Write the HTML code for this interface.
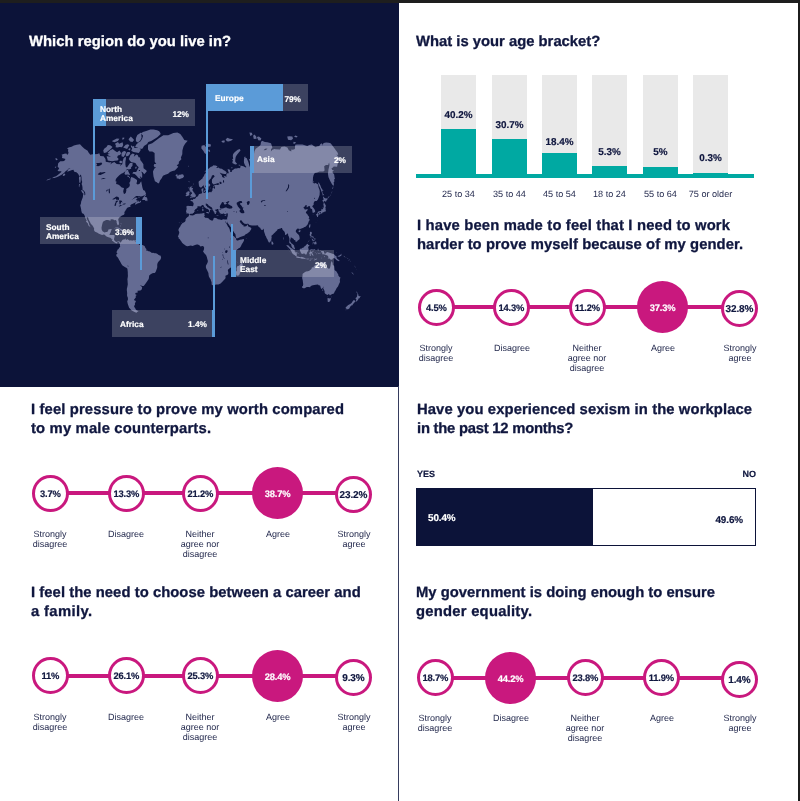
<!DOCTYPE html>
<html><head><meta charset="utf-8"><title>Survey results</title>
<style>
*{box-sizing:border-box;margin:0;padding:0}
html,body{width:800px;height:801px;overflow:hidden;background:#fff}
body{position:relative;will-change:transform;font-family:"Liberation Sans",sans-serif;color:#10173f}
div{position:absolute}
.t,.c,.lab,.bv,.bl,.sm,.sn,.mt{transform:rotate(0.03deg)}
.c,.bv,.sm,.sn,.mt{-webkit-text-stroke:0.18px currentColor}
.t{-webkit-text-stroke:0.3px currentColor;font-weight:700;font-size:14.8px;line-height:20px;color:#10173f;white-space:nowrap}
.t.w{color:#fff}
.ln{height:4px;background:#c9187e}
.c{width:36.8px;height:36.8px;border-radius:50%;border:3px solid #c9187e;background:#fff;font-weight:700;font-size:9.4px;line-height:31.8px;text-align:center;color:#10173f;letter-spacing:-0.2px}
.c.big{width:51.3px;height:52px;border:0;background:#c9187e;color:#fff;line-height:53.6px}
.c.l5{font-size:10px;line-height:32.6px;letter-spacing:-0.1px}
.lab{width:80px;text-align:center;font-size:9px;line-height:10px;color:#23294d}
.bg{top:75px;width:35px;height:100px;background:#e9e9e9}
.bf{width:35px;background:#00a9a2}
.bv{width:55px;text-align:center;font-weight:700;font-size:9.9px;line-height:10px;color:#10173f}
.bl{top:189.3px;width:65px;text-align:center;font-size:9.1px;line-height:10px;color:#23294d}
.sm{font-weight:700;font-size:9px;line-height:10px;color:#10173f}
.sn{font-weight:700;font-size:9.9px;line-height:10px;color:#10173f;letter-spacing:-0.1px}
.mb{background:rgba(255,255,255,.2)}
.mt{color:#fff;font-weight:700;font-size:8.3px;line-height:10px;white-space:nowrap}
.bb{background:#5b9bd8}
</style></head><body>
<div style="left:0;top:0;width:399px;height:387px;background:#0c1339"></div>
<div style="left:398px;top:386px;width:1px;height:415px;background:#363c5e"></div>
<div style="left:0;top:0;width:800px;height:3px;background:#1e1e1e"></div>
<div style="left:798px;top:0;width:2px;height:801px;background:#1c1c1c"></div>
<div class="t w" style="left:29.2px;top:31.11px;letter-spacing:0.026px">Which region do you live in?</div>
<div class="t" style="left:415.7px;top:31.25px;letter-spacing:0.004px">What is your age bracket?</div>
<div class="t" style="left:416.9px;top:214.72px;letter-spacing:0.166px">I have been made to feel that I need to work</div>
<div class="t" style="left:417.1px;top:233.61px;letter-spacing:0.067px">harder to prove myself because of my gender.</div>
<div class="t" style="left:31.4px;top:398.97px;letter-spacing:0.133px">I feel pressure to prove my worth compared</div>
<div class="t" style="left:31.4px;top:417.66px;letter-spacing:0.175px">to my male counterparts.</div>
<div class="t" style="left:416.9px;top:398.98px;letter-spacing:0.104px">Have you experienced sexism in the workplace</div>
<div class="t" style="left:416.9px;top:417.65px;letter-spacing:-0.231px">in the past 12 months?</div>
<div class="t" style="left:30.9px;top:582.01px;letter-spacing:0.055px">I feel the need to choose between a career and</div>
<div class="t" style="left:30.9px;top:601.23px;letter-spacing:0.359px">a family.</div>
<div class="t" style="left:416.4px;top:582.15px;letter-spacing:0.017px">My government is doing enough to ensure</div>
<div class="t" style="left:416.4px;top:601.15px;letter-spacing:0.242px">gender equality.</div>
<!--MAP-->
<svg style="position:absolute;left:0;top:0" width="399" height="387" viewBox="0 0 399 387"><path fill="#646b93" d="M80.0 144.3L82.3 146.7L84.5 148.7L87.7 150.7L88.4 152.3L90.3 154.8L92.5 154.2L94.3 154.2L97.5 154.1L99.3 153.3L100.2 156.1L103.6 156.3L105.5 159.1L105.8 161.7L109.8 162.4L111.4 161.9L110.4 164.6L112.1 162.9L114.3 162.1L116.7 164.1L119.2 164.2L120.8 163.9L120.0 166.1L122.3 164.0L122.5 161.6L123.7 157.9L125.9 156.5L125.9 158.9L125.4 161.7L125.4 164.4L125.9 167.2L127.1 167.2L130.0 162.9L132.6 162.9L132.5 165.7L131.0 167.4L131.2 168.7L128.9 169.5L127.0 169.0L125.7 170.9L123.1 173.0L121.3 173.8L119.3 175.2L117.1 177.6L115.9 179.1L115.5 181.2L116.5 181.5L116.1 184.1L118.2 184.5L119.7 185.4L121.7 187.4L124.0 187.9L123.2 191.2L123.7 193.4L124.7 193.9L125.9 192.5L126.4 190.0L126.1 188.9L128.5 187.6L129.6 186.2L129.9 184.8L129.3 183.0L130.4 181.0L130.5 178.8L131.3 176.9L133.5 177.7L135.6 179.1L137.0 180.1L137.0 181.7L136.4 183.4L137.5 184.5L139.4 183.9L140.8 181.8L141.3 181.5L141.8 184.5L142.4 187.6L143.2 189.9L144.8 190.7L145.4 192.1L146.1 194.1L145.0 194.9L142.8 196.1L141.0 196.4L138.4 196.1L136.1 196.1L134.4 197.6L132.2 199.5L131.2 200.3L133.3 198.9L135.8 197.5L137.7 197.9L136.6 199.1L135.7 199.0L136.8 200.1L136.8 201.4L137.7 201.7L139.2 202.0L140.7 200.6L141.0 201.9L139.8 202.7L137.4 203.5L135.3 204.7L134.9 203.7L136.6 202.4L135.3 202.6L134.3 203.0L132.3 204.0L131.1 204.4L130.3 205.6L130.4 206.6L130.9 206.7L129.4 207.0L128.5 207.2L126.9 207.9L126.6 209.1L125.7 209.9L125.3 211.0L124.4 212.1L124.5 214.1L123.5 214.9L122.0 215.6L120.7 216.4L119.0 217.7L118.2 219.4L118.7 221.6L119.0 223.5L118.6 224.9L117.8 225.3L117.2 224.3L116.6 222.4L116.6 221.0L115.7 219.9L114.2 220.2L113.4 219.4L111.9 219.3L110.5 219.5L110.6 220.8L109.4 220.6L108.0 220.1L106.3 220.0L105.1 220.5L103.0 221.8L102.3 224.0L101.5 227.8L101.8 229.9L102.8 231.4L103.8 232.0L104.4 232.4L106.2 232.0L107.2 232.0L108.1 230.8L108.4 229.5L110.8 228.9L111.9 229.3L111.1 230.8L110.6 232.5L110.1 233.2L109.4 234.9L110.7 235.0L112.2 234.9L114.1 235.0L114.8 235.8L114.3 237.8L114.0 239.3L114.2 239.9L114.7 240.8L115.5 241.6L116.6 242.0L117.6 241.5L119.0 241.3L120.1 242.1L120.4 242.8L119.9 243.4L119.5 243.6L119.2 242.6L118.0 241.8L117.2 242.6L117.2 243.4L115.9 243.3L114.7 242.6L114.1 242.3L113.1 241.2L112.0 240.8L112.1 239.8L111.0 238.3L110.3 237.7L109.1 237.5L107.7 237.0L106.1 236.3L104.7 234.8L103.8 234.5L102.1 235.0L100.2 234.3L98.9 233.8L97.0 232.6L95.6 232.1L94.8 231.4L93.9 230.0L94.2 228.8L93.4 226.9L92.1 224.9L90.9 224.1L90.1 222.2L89.7 221.5L88.6 219.6L88.2 217.8L86.9 216.9L86.7 218.4L87.5 220.2L88.2 221.6L88.9 223.3L89.2 224.8L89.8 225.7L90.4 226.9L90.0 227.2L89.7 226.5L88.2 225.2L88.1 223.7L87.1 222.7L86.3 221.7L85.9 221.5L86.7 220.6L85.7 218.7L85.0 216.9L84.8 215.9L83.9 214.2L83.0 213.4L82.0 213.3L81.3 210.7L81.1 209.1L80.5 206.6L80.2 205.4L81.0 203.2L81.1 201.8L82.8 197.3L83.2 194.0L84.7 194.5L84.7 195.8L85.3 194.4L85.2 193.3L85.1 192.6L84.0 190.8L82.5 189.8L82.5 187.8L82.2 185.5L81.6 184.0L82.2 182.0L81.6 180.1L81.5 177.2L80.9 174.5L79.2 176.2L78.5 174.6L77.6 173.2L76.4 172.2L74.3 171.7L73.4 169.8L71.3 170.2L69.5 171.1L67.0 171.8L68.6 169.1L70.5 168.2L69.0 168.3L67.3 169.9L65.6 171.3L64.0 173.1L61.6 174.7L58.9 176.2L56.6 177.2L54.3 177.9L52.8 178.0L51.4 178.4L53.8 177.0L56.1 176.2L59.0 174.1L61.6 171.7L60.9 171.3L59.3 171.2L57.5 171.0L59.2 168.2L57.7 166.7L58.0 164.4L58.2 163.2L60.3 161.3L62.2 161.3L64.2 161.1L65.5 159.0L64.0 158.5L62.0 157.9L62.3 155.8L61.5 154.8L64.3 153.7L66.4 153.6L67.2 154.9L68.6 153.1L68.0 151.0L68.3 149.3L67.0 148.8L68.6 147.6L71.6 146.8L73.9 145.5L76.9 144.7ZM148.1 144.7L152.2 143.2L155.2 141.1L159.2 138.0L163.4 135.3L168.2 135.2L173.4 133.1L177.4 132.5L180.3 134.0L182.5 137.1L184.3 139.9L187.7 140.7L185.1 143.7L183.5 146.5L182.4 150.4L182.3 154.2L180.9 157.6L181.4 159.2L178.9 161.8L178.7 163.9L176.7 165.2L178.3 166.8L177.0 168.3L174.8 170.4L172.5 171.0L170.0 171.9L168.1 173.7L165.2 174.7L163.0 175.8L161.7 178.2L160.0 180.5L159.2 182.8L158.2 183.6L156.8 182.3L154.9 181.2L154.2 178.8L153.5 176.4L153.2 174.1L153.0 171.4L154.2 168.7L156.2 167.2L154.6 167.2L153.7 165.7L154.3 164.1L156.3 164.0L154.7 161.7L154.7 159.0L154.6 156.0L154.6 153.1L152.3 151.4L149.4 151.4L148.0 149.5L148.0 147.0ZM120.4 242.8L121.4 241.5L122.0 240.4L122.7 239.8L123.2 239.6L124.4 239.4L125.7 238.5L126.2 239.1L125.5 239.9L126.0 240.0L127.1 239.4L127.3 238.7L127.8 239.4L128.9 240.1L129.2 240.4L131.1 240.3L132.1 240.8L133.2 240.3L135.0 240.2L134.5 240.9L135.9 241.4L136.0 242.3L137.0 242.6L138.5 244.0L139.6 244.9L141.4 244.9L142.5 245.0L144.2 245.8L144.9 246.4L145.4 248.1L146.4 248.9L146.4 250.1L146.0 250.5L147.9 250.8L148.3 251.2L149.2 251.2L150.7 252.0L151.9 252.9L153.1 252.8L154.6 253.3L156.0 253.2L157.5 254.1L158.6 255.1L159.9 255.4L160.4 255.5L160.7 256.1L161.1 257.4L161.0 258.3L160.2 259.9L159.0 261.1L157.6 263.1L157.2 264.9L157.3 266.6L157.1 267.9L156.2 270.4L155.6 272.1L154.7 273.1L153.6 273.1L152.4 273.3L150.7 274.2L149.2 275.5L148.9 277.9L148.7 279.0L147.7 280.5L146.0 282.9L144.9 284.6L143.7 286.1L142.5 286.0L140.9 285.6L140.3 285.3L140.4 285.8L141.6 286.6L142.2 287.6L141.7 289.5L140.4 290.4L137.5 290.7L137.8 292.6L135.3 293.1L135.5 294.5L136.9 295.1L135.7 295.7L135.8 297.6L134.1 299.6L134.2 300.2L136.0 301.0L134.9 303.5L135.0 304.8L134.1 305.9L134.3 307.0L135.1 308.0L135.8 309.6L136.9 310.5L138.6 311.1L137.6 311.8L136.5 312.3L137.3 313.1L135.1 312.3L133.1 311.3L131.7 310.4L130.3 309.0L129.1 307.7L128.5 305.9L127.7 303.7L127.2 301.3L127.9 299.7L127.9 298.0L127.3 296.1L127.2 294.6L127.1 292.4L126.8 290.0L126.9 288.6L127.3 287.1L127.8 284.2L127.6 282.0L127.6 280.9L127.4 279.3L127.7 277.6L127.9 276.0L127.8 274.0L127.8 272.3L127.6 270.5L127.4 268.7L126.4 267.8L125.2 267.2L123.7 266.2L122.5 265.5L121.4 264.1L120.5 262.2L119.8 261.0L118.9 259.4L118.4 258.4L117.6 257.2L116.5 256.3L116.2 255.1L116.6 254.2L117.1 253.7L117.5 252.9L116.5 252.7L116.7 251.5L117.3 250.4L117.4 249.8L118.6 249.0L119.0 248.0L120.2 246.8L119.9 245.2L120.0 244.3L119.5 243.6L119.9 243.4ZM146.7 171.4L144.2 174.2L142.7 172.2L141.3 171.5L142.2 174.1L142.2 176.9L142.0 178.1L139.7 176.0L140.8 179.0L138.5 177.9L136.6 175.8L134.7 173.9L132.3 173.6L133.3 171.9L136.2 172.1L137.5 169.4L138.7 167.3L136.9 165.4L135.4 163.0L133.2 162.6L131.3 162.2L129.9 160.8L128.8 159.0L130.5 155.1L132.6 153.5L134.6 154.2L133.8 156.8L136.3 154.6L137.6 155.1L138.6 157.3L140.1 157.5L140.3 159.9L141.9 161.9L143.4 164.3L143.4 166.3L143.6 168.3L145.2 169.5L146.5 170.6ZM106.6 156.6L107.4 158.8L107.7 160.6L110.5 161.0L112.1 161.3L114.9 160.8L117.6 160.5L118.7 159.1L117.1 157.3L118.0 155.6L120.0 155.1L121.2 153.3L120.3 151.7L119.4 150.4L117.1 152.2L115.6 151.2L113.5 149.8L112.9 149.1L110.5 150.0L107.6 152.8L108.3 153.5L109.9 153.7L107.3 154.5L108.4 155.6L111.1 156.8L107.3 156.3ZM103.2 150.6L103.9 153.0L106.3 152.6L108.8 150.6L111.0 148.8L112.5 146.9L111.6 146.3L110.2 145.3L107.8 145.1L106.5 147.0L104.4 148.4ZM115.0 143.8L118.0 141.9L119.1 143.8L122.6 142.2L123.2 144.9L122.0 147.2L119.8 147.1L117.4 147.6L115.6 147.3L115.9 145.6ZM112.0 141.1L116.8 138.4L119.4 138.7L117.9 140.9L114.4 142.3L112.4 141.6ZM123.2 147.5L127.1 148.9L129.3 145.2L128.0 144.2L125.7 144.7ZM128.1 149.2L129.5 150.4L130.6 149.0L130.0 148.0ZM121.6 152.9L121.5 156.2L123.6 156.9L125.2 154.6L126.2 152.0L124.7 151.0L122.9 151.4ZM127.4 152.0L129.7 152.1L130.3 153.2L128.8 155.4L126.6 156.6L125.7 155.2L126.4 153.3ZM119.1 161.8L120.9 160.6L122.1 161.5L121.9 163.0L120.0 163.3ZM125.1 171.8L127.0 169.8L128.1 170.0L128.4 171.5L129.4 173.4L130.1 174.4L129.3 175.0L127.8 174.4L125.5 174.8L124.5 173.9ZM127.3 175.6L128.6 175.8L129.5 176.8L127.7 176.9ZM129.0 176.9L129.9 176.9L129.6 178.2L128.9 177.9ZM135.0 168.5L136.4 168.5L136.8 166.8L135.6 166.8ZM130.9 145.1L132.3 146.6L134.2 146.0L134.3 148.0L137.7 148.0L140.6 148.2L140.5 150.6L138.8 152.9L136.2 152.5L133.4 151.9L131.2 150.8L132.2 148.3L131.0 146.9ZM135.1 147.1L137.8 147.8L140.9 149.1L142.6 148.6L144.0 146.1L147.1 143.9L148.3 142.0L151.2 141.1L154.1 139.2L157.3 137.2L160.5 134.3L160.5 133.2L159.2 131.3L157.1 130.3L153.5 129.6L150.4 129.5L146.2 131.0L142.9 131.9L141.0 133.6L143.1 135.8L142.1 138.7L140.6 141.2L138.4 142.5L136.1 144.7ZM141.1 132.5L141.4 135.3L141.6 137.8L140.3 140.5L137.8 142.4L135.9 141.2L135.9 138.2L137.3 135.0ZM128.5 139.2L130.1 141.4L132.4 142.1L134.1 140.0L132.8 138.5L130.8 136.4ZM122.0 139.6L123.8 139.3L124.5 137.8L122.7 137.5ZM141.9 199.9L142.8 198.7L142.5 198.1L143.5 197.2L144.4 195.9L145.1 195.0L146.2 194.8L145.5 196.0L144.6 197.1L145.8 197.1L147.0 197.6L147.3 198.7L147.5 200.1L147.2 201.3L146.4 201.1L146.4 200.3L145.2 200.9L145.0 200.1L143.9 200.0ZM137.8 196.6L139.9 197.4L140.1 197.8L138.5 197.4ZM137.1 200.5L139.2 201.1L138.6 201.7L137.4 201.2ZM81.1 189.9L82.3 190.2L83.6 191.5L84.2 192.9L84.5 194.1L83.3 193.8L82.5 193.0L81.5 191.3ZM79.1 184.0L80.1 184.3L79.4 186.0L79.5 187.4L78.8 186.2ZM79.2 176.4L80.8 176.7L80.7 179.9L80.5 182.6L79.3 182.8L79.2 180.2L78.9 178.1ZM63.0 174.5L64.5 173.6L65.4 174.2L64.4 175.7L62.8 176.0ZM55.0 166.7L56.4 166.8L55.8 167.8L54.8 167.6ZM55.9 158.1L57.1 158.8L57.7 159.7L56.4 160.2L55.3 159.0ZM47.4 179.4L49.6 178.8L50.9 178.5L50.4 179.2L48.0 180.1L46.3 180.8ZM113.8 228.7L115.7 227.5L116.3 227.4L118.1 227.5L119.4 228.2L120.8 228.9L122.2 229.5L123.8 230.6L122.6 230.9L120.4 230.9L121.0 230.2L120.2 230.0L119.3 229.2L118.0 228.6L116.7 228.4L115.8 227.9L114.6 228.6ZM123.5 232.2L125.0 232.3L125.1 231.6L124.6 231.0L126.2 231.0L127.8 231.1L128.5 231.5L129.2 232.3L128.7 232.5L127.7 232.4L126.6 232.8L126.0 233.1L125.8 232.6L124.8 232.6L123.5 232.5ZM119.6 232.5L121.0 232.3L121.7 232.8L120.8 233.0L119.7 232.8ZM130.4 232.4L131.9 232.5L131.8 232.9L130.4 232.9ZM120.4 223.6L121.4 223.5L121.6 224.2L120.8 224.0ZM120.5 225.5L121.0 225.5L120.9 226.5L120.3 226.3ZM135.1 240.1L135.9 240.1L135.9 240.8L135.0 240.8ZM127.0 294.6L127.7 294.7L128.0 296.6L127.2 296.4ZM189.6 214.4L188.8 214.0L188.2 213.2L187.3 213.4L186.3 213.4L186.5 211.9L185.9 211.4L186.4 210.1L186.7 208.7L186.5 207.6L186.2 206.6L187.0 206.2L187.7 205.7L189.2 206.0L191.2 206.1L193.0 206.2L193.5 204.7L193.6 203.6L193.5 202.9L192.8 202.2L192.6 201.6L191.9 201.2L190.8 200.9L190.4 200.2L191.1 199.8L192.0 199.7L192.8 200.0L193.2 199.8L192.9 198.6L193.5 199.0L194.4 199.1L194.7 198.8L195.6 198.3L196.0 197.6L196.3 197.0L197.1 196.7L197.6 196.4L198.2 195.7L198.7 194.4L199.3 194.0L200.5 193.8L201.5 193.4L202.1 193.1L201.9 191.8L201.7 191.0L201.4 189.6L201.8 188.8L203.5 187.9L203.4 188.9L203.3 190.0L202.9 191.2L202.7 191.9L203.3 192.5L204.0 192.4L204.0 193.0L205.0 192.7L206.1 192.1L206.9 193.1L208.5 192.5L210.2 191.8L210.6 192.3L211.4 192.3L211.7 191.6L212.5 190.5L212.4 189.4L212.7 188.0L213.5 187.6L214.2 188.7L214.9 188.6L215.0 186.8L214.2 186.2L214.1 185.5L215.1 185.1L216.1 184.8L217.8 184.9L219.5 184.2L218.2 183.1L216.8 183.5L215.2 184.0L213.6 184.6L212.9 183.8L212.1 182.9L211.9 181.4L212.0 179.6L213.0 178.3L214.0 177.0L214.7 176.4L213.9 175.3L213.5 175.1L212.0 175.5L211.5 176.9L210.8 178.6L209.8 179.5L209.0 180.5L208.7 180.8L208.6 181.9L208.7 183.4L209.9 184.1L210.3 185.3L209.3 186.4L208.5 186.5L208.6 187.8L208.4 189.2L208.1 189.9L207.8 190.1L206.8 190.8L206.3 191.1L205.7 191.1L205.4 190.3L205.5 189.3L204.6 187.9L203.9 186.8L203.7 186.0L203.4 184.7L203.1 185.8L202.5 186.3L201.3 187.4L200.5 187.5L199.3 186.7L199.3 186.1L198.9 185.4L198.8 184.0L198.6 182.8L198.7 181.6L199.6 180.8L200.6 179.9L201.6 179.1L202.4 179.1L202.2 178.4L203.1 177.1L204.0 176.0L204.4 174.6L205.7 172.9L206.1 171.6L204.5 171.7L205.6 170.9L206.3 170.0L207.4 169.4L208.8 168.4L209.9 167.6L210.9 166.8L212.1 166.4L213.5 165.3L214.8 165.5L215.6 165.6L216.8 166.1L217.6 166.6L216.2 167.5L217.1 168.0L218.5 167.5L219.8 168.4L221.8 168.8L223.5 170.0L225.3 170.9L226.5 172.3L226.6 173.3L225.9 173.9L224.3 174.0L221.8 173.5L219.7 172.6L220.7 173.9L221.9 175.2L222.2 176.9L223.8 177.8L225.0 177.7L224.4 176.9L223.8 175.8L226.0 176.5L226.8 176.4L226.1 174.9L227.3 173.3L228.9 173.3L228.4 171.7L227.5 169.2L228.8 169.3L230.2 170.1L230.2 171.9L231.7 172.0L231.9 170.5L232.9 169.9L234.9 168.5L236.5 168.5L238.3 167.9L239.6 168.3L240.5 167.3L240.4 165.7L239.9 165.5L243.4 166.3L244.7 166.9L245.7 167.4L246.4 167.1L245.0 165.2L244.1 163.1L243.9 161.4L244.0 159.2L244.5 157.5L246.6 158.0L248.3 161.8L249.4 165.8L250.9 169.5L250.6 170.9L251.8 168.5L251.1 165.5L249.9 161.5L248.8 158.8L250.2 159.2L250.7 157.7L252.9 158.2L251.7 155.4L253.9 154.4L254.5 150.9L255.7 148.7L258.5 146.8L260.5 145.0L261.0 142.0L262.0 140.8L264.9 142.1L267.4 142.2L271.0 143.3L272.4 147.4L271.1 149.2L270.9 151.5L272.3 149.7L274.7 149.0L275.4 149.3L280.0 149.4L281.3 146.9L284.5 146.4L287.4 147.6L288.8 150.3L291.3 151.4L291.3 149.5L292.9 149.8L294.9 148.9L295.0 146.4L295.3 144.8L297.1 144.4L299.7 144.4L302.4 144.4L304.9 145.3L307.3 146.0L309.2 144.9L311.8 144.6L315.6 147.2L316.9 146.4L319.3 145.9L320.3 144.2L321.6 143.3L323.0 145.7L322.6 144.2L323.8 143.1L326.1 142.5L328.8 142.7L330.6 143.3L331.8 144.8L333.3 146.8L334.4 148.3L336.0 150.5L336.8 151.6L338.8 154.5L338.8 154.5L338.1 153.5L337.0 151.9L335.6 150.0L337.8 153.1L338.2 154.9L336.4 154.4L338.6 157.0L341.3 159.2L339.3 159.5L338.6 161.5L337.6 163.9L337.1 166.7L333.8 166.5L332.6 167.8L331.5 168.3L332.7 171.0L332.6 172.5L334.2 174.5L334.3 175.6L334.7 178.0L335.1 178.3L334.2 179.5L334.4 181.6L333.6 182.5L334.0 184.0L333.4 186.1L332.0 184.3L330.1 180.8L328.5 177.2L327.9 173.6L328.2 172.0L328.4 169.7L329.0 167.3L329.5 164.8L329.1 162.5L328.5 163.9L328.3 165.1L326.3 164.9L325.5 165.2L324.2 166.2L324.6 170.6L323.3 171.6L321.1 171.4L319.5 171.6L317.1 172.5L314.8 173.0L313.6 174.9L313.0 177.6L312.9 180.5L312.8 182.5L314.2 183.5L315.8 182.9L317.2 184.0L318.1 184.4L318.5 187.3L319.5 189.7L319.8 191.4L319.6 195.0L318.7 197.5L317.9 199.5L316.7 201.0L314.9 201.1L314.1 201.9L313.6 203.3L313.8 204.5L312.8 205.6L312.2 206.4L313.4 207.7L314.6 209.5L315.2 210.9L315.0 212.1L314.1 212.5L312.8 213.1L312.4 211.4L312.2 210.0L312.0 209.1L310.9 208.8L310.2 207.9L310.1 206.5L309.1 205.9L308.0 206.5L306.9 207.6L306.5 205.8L306.8 205.1L305.8 204.9L304.7 206.4L303.3 207.7L304.5 208.8L304.9 209.7L306.2 209.2L308.2 209.6L307.0 210.7L306.5 211.3L305.9 212.6L305.9 213.1L307.2 214.1L308.0 215.6L309.1 216.7L309.2 217.5L308.8 218.3L308.4 218.4L309.5 218.9L309.5 220.5L308.9 221.1L308.3 222.7L308.0 223.5L307.6 224.4L306.9 225.2L305.9 226.4L304.1 227.3L303.4 227.8L302.8 227.9L301.4 228.5L300.0 229.0L299.8 230.0L299.3 228.8L298.6 228.7L297.6 228.6L296.5 229.6L295.9 230.6L295.8 231.8L296.6 232.8L297.7 234.1L298.4 234.5L299.2 235.8L299.5 236.9L299.7 238.4L299.5 239.2L298.5 239.9L297.7 240.4L297.3 241.2L295.9 242.0L295.6 242.1L295.6 240.9L295.2 240.3L294.2 240.1L293.7 239.2L293.1 238.5L291.7 238.0L291.2 237.2L290.7 237.4L290.7 238.4L290.1 240.0L290.2 241.6L290.9 242.4L291.6 243.5L292.2 243.8L293.1 244.5L294.1 245.5L294.3 246.9L294.8 248.1L295.1 249.2L294.5 249.3L293.2 248.4L292.4 247.7L291.6 246.5L291.3 245.3L291.1 244.3L290.7 244.0L289.3 242.9L289.3 241.8L289.5 240.8L289.4 238.4L288.8 236.6L288.2 235.4L288.1 234.2L287.4 233.3L286.8 234.1L286.0 234.9L285.0 234.7L285.0 233.2L284.5 231.8L283.3 230.5L282.6 229.7L282.3 229.1L282.0 228.1L281.2 227.9L280.6 228.5L279.4 228.7L278.6 228.9L277.5 229.2L277.4 230.1L276.5 230.9L275.8 231.4L275.0 232.4L274.3 233.1L273.4 234.0L272.4 234.9L271.4 235.8L271.7 237.7L271.3 239.0L271.5 240.5L270.9 240.6L270.6 241.5L269.9 242.0L269.3 242.7L268.7 242.3L267.9 240.8L267.5 239.6L266.5 238.0L266.0 236.6L265.3 235.4L264.8 233.8L264.1 231.8L263.9 230.3L263.9 229.6L263.7 228.5L263.4 229.3L262.3 230.1L261.3 229.8L260.2 228.5L261.4 227.8L260.2 227.9L259.7 227.4L258.7 226.9L258.1 225.8L257.6 225.2L255.8 225.5L253.6 225.6L252.0 225.4L249.3 225.1L248.4 224.0L247.7 223.5L246.5 224.0L244.6 223.7L243.6 222.9L242.4 221.7L241.7 220.6L240.5 220.2L239.7 221.2L240.2 222.2L240.8 223.2L241.5 223.8L242.0 224.4L242.4 225.3L242.8 224.7L243.4 225.0L243.5 225.9L243.2 226.3L244.4 226.6L246.1 226.3L246.9 225.5L247.5 224.7L247.9 224.4L248.0 225.8L248.3 226.4L250.2 227.2L251.4 228.3L251.1 229.5L250.5 230.4L249.7 230.7L249.7 231.9L249.0 232.0L248.1 233.0L247.2 233.5L246.4 234.0L245.3 234.4L244.6 235.4L241.7 236.5L240.2 237.1L237.8 238.2L236.4 238.3L236.1 237.7L235.7 236.2L235.5 234.7L235.3 234.1L234.2 232.8L233.5 231.5L231.8 229.5L231.6 228.5L230.6 226.9L229.8 226.0L229.0 224.7L228.0 223.4L227.5 222.9L227.4 221.3L227.0 222.9L226.8 223.2L226.2 222.6L225.1 220.8L224.8 219.5L225.9 219.6L226.7 219.4L227.1 218.5L227.2 217.8L227.6 216.6L227.8 215.9L227.7 214.8L227.9 214.3L228.0 213.6L227.3 213.6L226.5 213.4L225.5 214.2L224.9 214.3L224.1 213.8L222.9 213.3L222.7 214.0L221.8 214.1L221.4 213.7L220.6 213.5L219.8 213.3L219.6 212.5L219.4 211.7L218.8 211.8L219.1 211.0L219.0 210.7L218.5 210.5L218.5 209.9L218.3 209.2L218.2 209.0L216.8 208.9L216.5 209.6L216.0 210.0L215.5 209.3L215.2 210.0L215.6 210.8L215.9 211.5L216.6 212.0L216.7 212.6L215.9 212.3L215.9 212.9L216.0 213.9L215.4 214.0L214.6 213.6L214.2 212.6L214.5 211.9L214.0 211.9L213.6 211.2L213.1 210.6L212.9 210.1L212.3 209.5L212.3 208.5L212.2 207.9L211.9 207.6L211.3 207.3L211.0 207.0L209.4 206.0L208.3 205.3L207.9 204.2L207.5 203.9L207.0 204.4L206.7 203.7L206.9 203.5L205.6 203.8L205.8 204.4L205.9 205.4L206.8 205.9L207.4 207.2L209.3 207.9L209.0 208.2L210.0 208.8L211.0 209.3L211.5 209.8L211.4 210.2L211.0 210.0L210.3 209.5L209.8 210.3L210.2 211.0L209.8 211.4L209.3 212.4L209.0 212.2L209.1 211.5L209.3 211.0L209.2 210.8L208.8 210.0L208.0 209.3L207.6 209.1L207.0 208.7L206.0 208.4L205.7 208.1L205.3 207.7L204.6 207.3L204.1 206.7L203.9 206.0L203.4 205.3L202.6 205.0L202.2 205.1L201.8 205.6L201.2 205.8L200.6 206.4L199.9 206.5L199.4 206.3L198.9 206.3L197.9 206.2L197.4 206.5L197.4 207.2L197.6 207.5L196.6 208.5L195.7 208.9L195.4 209.3L194.6 210.2L194.3 210.7L194.8 211.5L194.1 211.9L194.0 212.8L193.1 213.0L192.6 213.8L191.4 213.8L190.5 213.8L190.1 214.0ZM189.6 198.1L190.1 198.3L191.0 197.8L191.6 197.4L192.5 197.5L193.5 197.3L194.8 197.3L195.4 197.1L195.8 196.7L195.8 196.4L195.2 196.3L195.7 195.7L196.1 195.0L195.7 194.4L194.9 194.5L194.9 194.1L194.7 193.6L194.5 192.9L194.1 192.4L193.6 192.2L193.3 191.4L192.9 190.6L191.9 190.3L192.4 189.9L192.8 188.8L193.1 188.2L192.9 188.0L191.8 188.0L191.1 188.2L191.4 187.7L192.0 186.9L192.1 186.6L190.4 186.7L190.2 187.2L189.7 187.7L189.7 188.5L189.7 188.9L189.4 189.3L190.0 189.8L189.9 190.5L189.7 191.3L190.2 190.9L190.4 190.4L190.6 191.1L190.2 191.8L190.5 192.2L191.6 191.8L191.5 192.4L191.8 192.9L192.2 192.9L192.0 193.3L192.0 193.8L191.3 193.9L190.6 193.8L190.8 194.2L190.5 194.6L191.1 194.5L191.1 195.1L190.5 195.5L190.0 195.8L190.2 196.1L190.9 196.2L191.2 196.2L191.9 196.4L192.3 196.2L192.0 196.7L191.0 196.7L190.6 196.9L190.3 197.5L189.8 197.9ZM189.1 195.4L188.5 195.4L187.4 195.9L186.1 196.3L185.5 195.5L186.2 194.8L186.8 194.1L185.8 193.8L185.9 193.0L186.0 192.6L187.3 192.6L187.2 192.2L187.5 191.5L188.3 191.2L189.4 191.4L189.7 192.2L189.9 192.5L189.2 193.0L189.3 193.9L189.4 194.4ZM188.7 187.2L189.4 186.8L189.3 187.5L188.6 187.9L188.4 188.8L188.2 187.9ZM189.0 188.2L189.4 187.9L189.6 188.7L189.2 188.8ZM189.3 189.5L189.8 189.6L189.7 189.9L189.2 189.9ZM189.1 190.4L189.5 190.5L189.5 190.9L189.2 190.9ZM191.8 185.9L192.4 185.8L192.3 186.4L191.8 186.2ZM193.3 183.8L193.9 183.6L193.7 184.8L193.4 184.6ZM188.6 181.1L189.4 181.2L189.2 182.4L188.8 181.9ZM175.3 175.6L176.7 174.2L177.2 174.1L177.7 175.7L178.1 175.9L178.8 174.8L180.2 174.7L182.0 174.2L183.2 174.5L183.9 175.9L183.9 176.8L182.7 178.0L181.0 178.6L179.4 179.2L178.2 178.6L176.5 178.5L177.1 177.7L175.6 176.7L177.2 176.5ZM188.0 166.0L188.7 165.8L188.7 166.4L188.0 166.6ZM201.3 148.3L201.6 145.8L204.3 145.0L205.4 146.5L206.7 147.2L208.2 148.8L206.7 149.9L206.6 151.7L205.9 154.0L204.5 153.1L203.5 151.1L202.6 149.9ZM205.5 144.8L206.5 143.5L208.4 143.7L210.9 144.4L210.7 146.4L208.2 146.9L206.3 146.1ZM208.0 149.8L209.6 149.7L210.2 151.5L209.0 152.1ZM221.3 141.6L222.8 140.4L224.7 140.4L224.7 142.3L223.0 142.8ZM225.6 139.5L227.4 137.8L229.7 138.7L231.7 138.9L233.0 139.0L231.2 140.7L228.3 141.6L226.9 141.2ZM232.3 163.0L232.9 159.9L231.9 159.2L233.2 158.8L232.8 156.3L233.0 154.6L233.9 153.0L235.5 151.4L237.7 149.7L239.8 148.9L240.5 150.5L238.8 152.6L236.8 155.0L235.7 157.0L235.3 159.4L235.2 161.6L237.2 164.1L235.4 164.5L234.1 164.0ZM231.3 168.1L231.8 167.1L232.6 167.8L232.0 168.4ZM238.9 165.9L238.8 164.5L239.8 165.0L239.6 165.8ZM244.0 157.3L245.3 156.6L245.7 157.7L244.6 157.9ZM253.8 139.0L253.1 135.7L254.5 134.5L256.2 136.5L256.6 138.8ZM258.3 140.3L256.9 137.0L258.9 136.6L261.4 138.6L260.5 140.6ZM250.3 135.9L249.4 132.4L251.8 132.8L252.5 134.8ZM288.0 139.7L287.2 136.5L289.6 136.2L292.4 136.4L293.0 138.7L291.1 140.2ZM294.1 136.8L295.2 135.6L297.7 136.3L296.5 137.6ZM293.1 143.4L293.7 141.8L296.1 142.6L294.7 143.7ZM332.3 169.9L333.4 170.1L333.6 171.0L332.8 170.9ZM317.9 182.4L319.0 182.8L320.3 185.3L321.2 187.8L323.0 190.4L323.8 191.0L322.1 190.7L322.7 193.5L323.9 194.4L324.2 195.5L323.3 194.8L323.0 196.0L322.2 193.5L321.4 191.2L320.1 187.9L318.9 185.5L318.4 183.8ZM313.1 181.5L314.0 181.6L314.1 182.3L313.4 182.2ZM327.2 198.8L327.8 197.7L329.1 195.9L329.5 196.2L328.3 197.9L327.5 198.9ZM329.9 195.3L330.6 194.6L330.6 195.3L330.1 195.6ZM331.5 193.2L332.0 191.3L332.2 191.6L331.8 193.5ZM332.4 189.1L332.7 187.3L333.1 186.3L333.3 187.0L332.9 189.0ZM323.2 202.8L323.0 201.5L322.5 201.1L322.6 200.0L323.5 199.9L323.4 198.4L322.9 196.7L323.2 196.6L324.6 198.0L326.0 198.6L326.8 198.0L326.9 199.0L327.7 199.5L326.6 200.2L326.0 201.7L324.3 200.9L323.7 201.4L323.1 201.2L324.1 202.1L323.6 202.2ZM323.9 202.6L324.4 202.7L324.9 204.0L325.8 205.2L325.7 207.0L325.3 207.2L325.7 208.8L325.5 209.8L325.9 210.6L325.7 211.4L325.2 211.7L325.0 210.8L325.0 211.4L324.5 211.4L324.4 212.2L323.9 211.7L323.8 212.2L322.6 212.3L322.4 211.8L322.6 212.7L322.2 213.2L321.8 213.8L321.0 213.3L321.0 212.8L321.1 212.3L320.3 212.2L319.7 212.6L318.4 212.9L317.4 213.4L317.1 213.4L317.0 212.9L317.4 212.8L317.9 212.2L318.3 211.4L318.9 211.2L319.8 211.2L320.6 210.9L321.3 211.0L321.2 210.2L321.6 209.1L322.1 208.4L321.9 209.0L322.2 209.4L323.0 208.8L323.3 207.9L323.5 207.7L323.7 206.8L323.8 205.9L323.4 204.9L323.4 203.9L323.5 203.1L324.0 203.5L324.2 203.0ZM318.3 214.1L318.8 213.4L319.5 212.9L320.5 212.9L320.7 213.4L320.4 214.2L319.6 213.9L319.4 214.9L318.7 214.4ZM317.1 213.5L317.9 213.8L318.2 214.3L318.4 215.1L318.1 216.2L317.9 216.8L317.6 217.1L317.1 216.9L316.9 215.8L316.4 215.2L316.0 214.5L316.7 213.9ZM322.6 207.3L322.9 207.2L323.1 207.9L322.8 207.9ZM315.7 223.1L316.2 222.3L316.2 222.5L315.8 223.1ZM316.8 220.5L317.2 220.2L317.1 220.6ZM312.7 214.2L313.4 214.2L313.4 214.5L312.8 214.6ZM315.3 212.7L315.5 212.6L315.5 213.3ZM310.0 224.2L310.5 224.6L310.3 225.7L310.2 226.7L309.9 228.1L309.1 227.3L308.9 226.3L309.3 225.0L309.5 224.5ZM300.3 230.2L300.7 230.7L300.3 231.6L299.5 232.3L298.6 231.8L298.5 231.1L299.0 230.4L299.7 230.2ZM271.6 241.0L272.5 241.8L272.9 242.3L273.4 243.3L273.4 244.3L272.7 244.6L272.2 244.8L271.8 244.6L271.6 243.9L271.4 242.8L271.6 241.9ZM283.6 237.3L284.0 237.5L284.0 238.8L283.8 239.3L283.6 240.2L283.5 239.3L283.6 238.3ZM284.9 243.6L285.1 243.7L285.1 243.9L284.9 243.8ZM245.8 238.3L247.0 238.3L246.7 238.6L245.9 238.6ZM246.8 224.0L247.7 223.7L247.7 223.9L246.8 224.2ZM206.0 212.3L206.8 212.1L208.9 211.9L208.5 212.8L208.7 213.3L208.5 213.8L207.7 213.3L206.5 212.7L206.0 212.5ZM202.1 208.9L203.0 208.7L203.5 209.5L203.4 211.0L202.8 211.1L202.3 211.2L202.3 209.7ZM203.1 206.6L203.2 207.7L203.0 208.5L202.4 207.9L202.4 207.2ZM216.3 214.9L217.3 215.0L218.9 215.2L218.2 215.5L217.5 215.6L216.3 215.2ZM224.5 215.4L225.1 215.0L226.6 214.6L226.1 215.4L225.2 215.8L224.6 215.7ZM196.8 210.5L197.4 210.2L197.8 210.4L197.4 210.9ZM198.1 210.0L198.5 210.1L198.4 210.3L198.1 210.2ZM195.7 211.2L196.1 211.1L196.0 211.4ZM215.7 211.1L216.2 211.3L217.2 212.1L216.8 212.1L215.9 211.4ZM220.2 214.2L220.7 213.9L220.5 214.4L220.2 214.5ZM218.2 210.8L218.9 210.6L218.9 211.0L218.4 211.1ZM218.3 211.5L218.6 211.6L218.6 211.9L218.4 211.9ZM213.3 211.8L213.7 211.9L213.5 212.2ZM212.6 210.2L212.8 210.3L213.0 210.7L212.7 210.6ZM217.9 213.1L218.2 213.1L218.1 213.4ZM217.5 209.9L217.8 210.0L217.7 210.2ZM204.0 190.7L205.3 190.1L205.3 191.2L204.8 191.7L204.1 191.4ZM202.9 191.0L203.7 190.8L203.8 191.5L203.1 191.6ZM204.0 191.8L204.8 191.8L204.9 192.1L204.1 192.1ZM207.1 191.2L207.5 191.4L207.4 191.6ZM209.9 188.6L210.3 187.5L210.7 187.4L210.4 188.3L210.0 188.8ZM208.5 189.9L209.0 188.3L208.9 188.9L208.6 189.9ZM212.9 186.8L213.3 186.3L213.9 186.5L213.7 187.0L213.0 187.3ZM213.0 185.9L213.6 185.7L213.7 186.1L213.3 186.3ZM210.7 184.0L211.3 183.8L211.2 184.3L210.8 184.3ZM204.5 171.6L205.6 170.7L206.3 169.8L206.9 169.4L206.6 170.3L205.9 171.3ZM207.2 169.2L208.1 168.6L208.0 169.4ZM189.2 214.7L189.7 214.6L190.9 215.4L191.8 215.3L192.7 215.5L194.0 214.9L195.5 214.1L197.4 213.7L199.2 213.7L201.0 213.4L201.8 213.5L203.6 213.1L204.7 213.3L204.3 214.1L204.5 214.8L204.8 215.6L204.6 215.9L204.0 216.8L204.8 217.2L205.8 217.9L206.9 217.8L208.8 218.4L209.5 219.6L211.4 220.5L212.9 220.6L213.3 219.8L213.3 218.7L214.6 217.8L216.0 218.0L217.0 218.6L217.9 219.2L219.8 219.5L221.7 219.9L222.5 219.5L223.6 219.2L224.8 219.4L225.1 220.8L225.6 222.4L226.4 223.6L227.2 224.9L228.2 227.0L228.5 227.1L229.6 229.0L230.1 231.4L231.4 233.0L232.4 235.4L233.9 236.3L235.4 237.8L236.2 238.5L236.0 239.3L236.9 240.4L237.9 240.5L239.8 239.7L241.7 239.6L243.4 239.0L243.9 239.1L244.0 240.5L243.5 241.4L242.8 242.8L241.8 244.3L240.9 246.2L239.9 247.7L238.3 248.6L237.1 249.6L235.6 250.9L234.6 252.3L234.1 252.7L233.3 253.6L232.9 254.5L232.3 255.4L232.5 257.1L232.6 258.7L232.9 260.2L233.5 260.6L233.5 261.6L233.6 263.1L233.6 265.1L232.9 266.4L231.4 267.3L230.0 268.0L227.9 269.8L227.9 271.0L228.3 272.0L228.3 273.9L227.3 274.9L225.8 275.4L225.4 276.1L225.6 277.7L225.2 278.7L223.7 280.2L222.6 281.5L220.6 283.4L218.4 284.5L216.4 284.6L215.0 284.7L213.1 285.3L211.8 284.9L211.6 283.4L211.6 282.3L211.0 280.7L210.5 279.1L210.1 278.7L208.9 276.6L208.6 275.0L208.4 273.0L207.7 271.5L207.0 270.0L206.1 268.2L205.9 267.2L205.9 265.8L207.5 262.7L207.9 261.1L207.3 259.0L206.9 257.3L206.5 256.3L206.0 255.1L205.2 254.2L204.1 252.9L203.0 251.2L203.7 250.2L204.0 249.1L204.1 248.1L204.0 246.7L203.3 246.5L202.8 246.1L201.4 246.3L200.4 246.4L199.7 245.5L197.9 244.4L196.9 244.5L195.8 244.7L194.4 245.3L192.6 246.0L190.7 245.6L188.8 245.9L187.2 246.3L185.9 245.7L184.2 244.5L183.5 243.9L182.6 243.3L181.9 242.4L181.4 241.4L180.6 240.4L179.6 239.1L178.6 238.6L178.7 237.5L177.8 236.3L178.5 235.3L179.0 233.6L179.3 233.0L179.1 231.8L178.4 230.3L178.5 229.6L178.9 228.6L179.5 227.4L180.4 226.3L180.9 225.0L182.0 223.8L182.5 223.1L183.8 222.5L185.0 221.7L185.6 220.5L185.5 219.4L186.0 218.5L187.5 217.1L188.3 216.7L188.9 215.4ZM242.0 262.1L242.8 265.6L242.7 266.1L241.8 267.6L241.4 269.1L240.6 271.6L239.7 273.7L239.1 275.2L237.3 275.8L236.2 275.2L236.1 273.5L235.8 272.1L236.8 270.4L236.6 268.6L237.2 266.3L239.0 265.8L240.1 264.8L240.7 263.6L241.5 262.5ZM232.4 256.0L232.8 256.2L232.7 256.7L232.4 256.5ZM232.8 255.2L233.0 255.3L233.0 255.7L232.8 255.6ZM236.1 261.5L236.4 261.6L236.3 262.0ZM237.1 262.2L237.4 262.3L238.0 262.9L237.9 263.1ZM249.2 270.2L249.7 270.3L249.5 270.7ZM247.2 271.1L247.7 271.2L247.5 271.6ZM178.7 222.6L179.5 222.4L179.2 223.0ZM179.7 222.8L180.2 222.9L179.9 223.3ZM181.0 222.3L181.6 222.2L181.9 221.8L181.5 222.8ZM202.7 247.0L203.2 247.0L203.0 247.5ZM200.9 250.2L201.2 250.3L201.0 250.5ZM286.5 245.1L288.6 245.5L289.4 246.6L289.8 246.9L291.5 248.3L292.3 248.6L293.2 249.4L294.0 249.8L294.8 250.3L294.5 251.3L295.3 251.6L295.8 252.8L296.9 253.4L296.8 254.4L296.7 256.2L296.1 256.2L295.5 256.0L295.2 255.4L293.2 254.2L292.0 252.9L291.4 251.5L290.8 250.4L289.9 248.9L288.9 248.2L288.4 247.4L287.3 246.5L286.5 245.5ZM296.1 252.1L297.1 252.1L297.6 253.4L296.9 253.3L296.5 252.7ZM298.4 253.0L299.1 253.1L299.0 253.6L298.4 253.5ZM288.3 249.2L288.8 249.5L289.1 250.0L288.6 249.7ZM289.7 251.5L290.4 252.1L290.3 252.3L289.8 251.9ZM286.9 247.7L287.6 248.1L287.5 248.3L287.0 248.0ZM296.0 257.2L296.8 256.3L297.6 256.5L299.0 256.7L299.3 257.1L301.0 257.3L301.5 256.8L302.1 257.1L303.1 257.3L303.3 257.6L304.0 258.1L304.8 258.1L305.0 259.1L303.5 258.7L302.0 258.7L300.6 258.2L299.2 258.0L298.2 258.0L297.1 257.7ZM303.2 257.3L304.5 257.3L304.6 257.5L303.3 257.6ZM304.9 258.5L305.6 258.5L306.1 258.8L305.6 259.2L305.0 258.8ZM306.3 258.8L306.8 258.6L307.0 258.9L306.8 259.3L306.3 259.2ZM307.1 258.8L308.0 258.6L308.6 258.8L309.3 258.7L309.3 259.1L308.6 259.2L307.8 259.4L307.1 259.3ZM310.0 258.8L311.2 258.8L312.4 258.7L313.1 258.7L312.9 259.0L311.6 259.3L310.2 259.2ZM309.2 259.9L310.2 259.7L310.9 260.3L310.3 260.7L309.4 260.2ZM313.5 260.7L314.5 259.6L315.5 258.9L317.3 258.8L316.5 259.4L315.0 260.1L314.0 260.6ZM313.8 258.7L315.1 258.6L315.0 258.8L313.9 258.9ZM315.8 258.1L316.8 258.0L316.7 258.3L315.9 258.3ZM321.0 257.9L321.6 257.6L321.4 258.4L320.9 258.4ZM324.0 256.0L324.6 256.0L324.5 257.2L324.0 257.1ZM322.8 255.8L323.1 255.7L322.9 256.3ZM299.8 249.1L300.4 248.5L301.0 248.9L302.1 248.1L303.6 247.5L304.6 246.3L305.5 245.7L306.4 244.7L307.1 243.7L308.1 244.3L308.1 244.8L309.6 245.4L309.0 246.2L308.3 246.4L308.1 247.3L308.5 248.4L308.3 249.6L309.4 249.5L308.1 250.4L308.0 251.2L307.4 251.7L306.9 253.0L306.7 253.9L306.4 254.4L305.1 254.6L305.1 253.8L303.6 253.6L302.5 253.9L300.9 253.3L300.7 252.0L300.0 251.0L300.0 250.5L299.7 249.7ZM310.1 249.8L311.2 249.3L312.8 249.6L313.8 249.6L315.1 249.1L315.4 249.0L314.7 250.1L313.6 250.2L311.8 250.1L310.7 250.1L310.5 251.2L311.1 251.9L311.8 251.4L313.7 251.4L313.1 251.9L312.1 252.4L311.9 252.7L312.6 253.4L312.8 254.1L313.3 254.9L312.9 255.2L312.2 255.2L311.8 254.6L311.3 253.4L311.2 253.1L310.7 253.7L310.7 254.9L310.7 255.9L309.8 255.9L309.8 255.5L309.9 254.4L309.3 253.9L309.3 253.1L309.7 252.3L310.2 251.3L310.2 250.5ZM312.9 255.1L313.4 255.1L313.2 256.0L312.8 255.9ZM313.1 251.8L313.8 251.8L313.7 252.1L313.1 252.1ZM314.6 252.2L316.1 252.3L316.1 252.5L314.6 252.5ZM317.6 249.6L318.0 248.4L318.2 249.2L318.8 249.1L318.4 249.7L319.0 250.3L318.1 250.2L318.6 251.3L318.0 250.8L317.7 250.1ZM318.0 253.6L319.1 253.2L320.9 253.7L320.5 254.1L319.1 253.8L318.1 253.9ZM316.2 253.6L317.3 253.7L317.3 254.1L316.3 254.2ZM317.5 251.9L318.2 252.0L318.1 252.2L317.5 252.2ZM318.3 248.1L318.8 248.2L318.6 248.6ZM320.3 250.6L321.3 250.7L321.2 250.9L320.4 250.9ZM319.8 252.3L320.5 252.3L320.4 252.5L319.8 252.5ZM325.4 251.2L326.1 251.5L325.9 251.7L325.5 251.5ZM325.3 252.2L326.7 252.3L326.6 252.4L325.3 252.3ZM321.0 251.3L322.5 250.9L323.9 251.3L324.1 252.0L324.2 253.0L324.7 253.7L325.3 253.8L326.3 252.7L327.6 252.0L328.7 252.5L330.4 253.0L331.1 253.2L332.6 253.8L334.0 254.3L335.2 255.6L336.4 256.4L337.1 257.1L336.3 257.2L336.8 257.9L337.4 259.1L338.4 259.6L339.1 260.5L339.9 260.8L339.0 261.2L337.1 260.6L336.4 260.0L335.3 258.7L334.4 258.2L333.9 258.0L332.9 258.6L332.4 259.6L331.4 259.7L330.4 259.6L329.5 258.6L328.6 258.5L327.6 258.8L328.4 257.7L328.2 256.6L327.7 255.8L326.7 255.3L325.3 254.8L323.9 254.3L322.9 254.4L322.7 254.5L322.0 253.3L322.7 253.1L323.4 253.0L322.0 252.7L321.0 251.9ZM337.6 256.0L339.3 255.4L340.7 254.6L341.5 254.6L341.4 255.4L340.2 256.2L339.2 256.7L337.8 256.6ZM340.1 253.1L341.2 253.7L342.2 254.9L342.0 255.1L340.8 253.6ZM336.1 252.5L336.8 252.5L336.7 252.7L336.1 252.7ZM343.7 255.7L344.4 256.2L344.9 257.3L344.2 257.0L343.8 256.2ZM345.5 257.2L346.4 257.8L346.2 258.0L345.5 257.5ZM346.9 258.1L348.6 258.9L348.4 259.1L347.1 258.5ZM348.4 259.8L349.5 260.4L349.3 260.6L348.3 260.2ZM349.4 258.8L350.0 259.8L349.7 260.1L349.4 259.1ZM349.9 260.8L350.9 261.3L350.7 261.5L349.9 261.1ZM354.7 265.7L355.2 266.1L355.1 266.7L354.7 266.6ZM355.1 267.2L355.7 267.5L355.4 267.9ZM355.9 269.0L356.3 269.1L356.1 269.4ZM351.5 271.9L352.8 273.0L354.0 274.7L353.5 274.5L352.1 273.2L351.4 272.1ZM310.0 231.8L311.3 232.0L311.6 231.8L311.9 233.4L311.2 234.5L311.6 236.4L312.5 236.2L313.6 236.8L313.9 237.6L313.9 238.1L313.1 237.6L312.4 237.4L311.8 236.8L311.1 237.0L310.4 236.4L310.7 235.9L310.4 236.1L309.9 235.7L309.5 234.4L310.0 234.3L309.9 232.9ZM310.3 237.2L311.1 237.2L311.4 238.0L311.2 238.4L310.7 237.8ZM307.5 242.3L308.3 241.5L309.2 240.3L309.6 239.4L309.4 240.2L308.7 241.4L307.8 242.2ZM311.9 238.7L313.0 239.1L312.8 239.8L312.0 240.2L311.9 239.5ZM312.4 240.3L313.2 239.8L313.5 240.3L313.2 241.6L312.6 241.1ZM313.3 241.2L313.6 240.4L314.0 239.4L313.9 240.4L313.5 241.2ZM313.8 240.6L314.5 240.6L314.5 241.0L313.9 241.1ZM314.3 239.2L314.9 239.3L315.1 240.4L314.8 240.6L314.6 239.8ZM314.1 238.1L315.1 238.1L315.6 239.4L314.9 239.5L314.7 238.7ZM313.1 238.1L313.8 238.4L313.9 238.7L313.2 238.6ZM312.2 243.8L312.5 242.9L313.1 242.2L313.9 242.6L314.7 242.2L315.5 241.7L315.5 240.9L316.2 241.7L316.4 242.7L316.6 243.4L316.3 244.4L315.8 243.7L315.5 244.3L315.5 245.1L315.3 244.6L314.2 244.3L314.3 243.5L313.5 243.3L313.0 243.2ZM312.0 244.0L312.5 244.1L312.4 244.3L312.0 244.2ZM311.2 244.6L311.7 244.7L311.6 244.8ZM331.8 261.2L332.6 263.1L332.8 265.0L334.1 265.8L334.4 267.9L334.6 269.9L335.1 270.5L336.5 271.4L337.2 272.7L338.4 274.7L338.3 275.5L339.3 276.8L340.3 277.8L339.8 279.9L340.0 281.9L338.9 284.3L338.0 286.5L337.1 287.4L336.3 288.7L335.6 290.2L334.6 291.8L334.1 293.1L333.9 293.5L332.4 293.9L330.8 294.7L330.0 295.5L329.2 294.5L329.0 293.7L328.6 294.3L327.4 294.9L326.1 294.2L325.0 293.6L324.5 292.2L324.7 290.8L323.8 290.2L324.0 289.3L323.7 288.3L323.1 289.6L322.3 289.7L323.3 288.1L323.9 286.3L323.1 287.6L321.7 288.7L321.5 289.1L321.0 288.6L320.4 286.6L320.1 285.4L318.6 285.2L318.0 284.6L315.8 284.7L312.8 285.3L310.8 286.1L310.1 287.2L308.6 287.1L306.8 287.1L304.6 288.2L303.3 288.2L302.0 287.4L302.1 286.4L302.9 286.1L303.2 284.5L303.1 283.3L302.9 282.1L302.8 280.7L302.5 279.4L302.1 277.7L302.5 276.2L302.5 274.6L302.9 273.6L303.4 272.8L303.5 273.5L304.3 272.6L306.0 271.5L307.9 271.2L309.3 270.8L310.9 269.6L311.6 268.8L311.7 267.7L312.5 267.1L313.0 268.1L313.5 267.0L314.1 266.0L315.1 265.1L316.2 264.6L316.6 264.3L317.5 265.4L317.7 265.9L318.9 265.5L319.1 264.6L319.8 263.5L320.4 263.0L321.6 262.6L322.2 261.9L323.0 262.3L324.5 262.7L325.9 262.4L326.3 262.7L326.0 263.8L325.2 264.8L324.7 265.7L325.9 266.7L327.0 267.3L328.0 268.2L328.8 268.7L329.7 268.4L330.3 266.8L330.6 265.2L330.8 263.6L331.1 262.6L331.4 261.5ZM327.8 297.7L329.1 298.5L330.8 298.1L330.6 299.9L329.8 301.6L328.6 302.1L327.8 301.9L327.6 300.3L327.5 298.5ZM321.9 290.4L322.9 290.1L323.3 290.6L322.2 290.7ZM319.8 261.9L321.0 261.8L321.1 262.1L320.1 262.3ZM325.7 264.4L326.2 264.4L326.0 265.0L325.6 264.9ZM340.2 277.2L340.5 277.2L340.2 278.3L340.0 278.2ZM327.4 296.0L327.6 296.2L327.5 296.8L327.2 296.6ZM331.0 296.6L331.5 296.8L331.2 297.5L331.0 297.2ZM356.5 290.8L356.8 291.7L357.6 292.9L357.5 294.5L358.4 294.2L358.3 295.6L359.2 296.3L360.5 295.9L360.7 296.1L359.5 298.2L358.5 298.6L358.0 300.0L355.9 301.9L355.6 301.4L356.2 300.1L356.4 299.2L355.6 298.8L355.6 298.1L356.6 297.3L357.2 295.9L357.1 294.7L357.2 293.8L356.6 292.4ZM354.0 299.9L354.8 300.6L355.2 301.2L354.9 301.9L354.0 303.0L352.7 304.4L352.7 305.2L351.9 305.3L350.7 306.0L349.7 307.7L349.3 308.4L348.1 309.3L346.8 309.3L346.2 308.5L345.4 308.0L346.1 306.9L347.4 305.7L348.3 305.0L350.2 303.9L351.6 302.9L352.3 301.7L353.2 300.6ZM345.8 309.5L346.4 309.6L346.1 310.2L345.7 310.2Z"/><path fill="#0c1339" d="M112.1 199.2L114.3 198.1L115.2 197.3L116.5 196.5L118.2 196.9L119.1 198.0L119.0 199.4L118.8 199.9L117.6 199.7L116.2 199.7L115.8 198.5L114.5 199.2L113.5 199.4ZM114.6 205.9L115.4 205.9L116.1 205.0L116.2 203.4L116.8 202.2L117.5 201.8L118.2 200.9L117.3 200.6L116.4 200.8L115.1 202.2L115.9 201.9L115.0 203.6L114.6 204.9ZM118.5 200.7L119.6 200.6L121.0 200.6L121.9 200.9L122.4 202.7L121.4 201.8L120.7 203.3L120.5 204.3L119.8 204.6L119.8 203.5L119.1 203.5L118.6 203.7L119.3 202.9L119.5 201.8L118.9 201.1ZM118.6 206.1L119.3 206.6L120.8 206.1L122.8 205.1L121.9 205.2L120.5 205.1L119.5 205.8L118.9 205.7ZM122.3 204.3L123.0 204.4L124.4 204.4L125.6 204.1L125.7 203.4L124.5 203.5L123.1 203.7ZM96.1 165.8L98.1 166.2L100.2 165.6L102.3 163.9L101.4 162.5L99.0 162.9L96.2 163.1L97.2 164.7ZM97.8 174.4L100.4 174.9L102.6 173.9L105.8 172.6L104.4 171.9L101.8 172.6L100.1 172.3L98.2 173.7ZM109.0 193.7L110.0 192.6L109.8 190.6L109.7 188.6L108.5 189.2L108.7 191.2ZM100.8 179.2L103.2 178.9L105.9 178.9L103.5 178.0L101.4 178.8ZM106.4 191.8L107.7 190.4L107.4 189.3L106.3 190.5ZM138.6 171.1L139.8 171.1L140.2 170.0L139.1 170.0ZM127.5 265.5L128.5 266.0L128.5 266.6L127.6 266.2ZM112.0 238.8L112.8 239.6L112.4 239.7L111.9 239.0ZM220.0 207.9L219.8 206.2L220.4 205.0L221.2 203.8L222.0 202.2L222.7 202.0L223.2 202.6L224.1 202.6L224.6 202.6L223.7 203.5L224.6 204.4L225.3 204.6L226.3 203.9L227.3 203.5L225.9 203.1L225.7 202.5L227.4 201.7L227.9 201.3L229.2 201.1L229.6 201.2L228.7 201.7L228.7 202.6L228.1 203.4L227.6 203.6L228.1 204.0L228.5 204.2L229.8 204.9L230.4 205.5L231.7 206.1L232.4 207.1L232.4 207.7L231.5 208.4L230.7 208.5L229.6 208.7L229.1 208.6L227.6 208.2L226.5 207.4L225.2 207.5L223.5 208.2L222.1 208.5L221.1 208.5ZM219.2 209.2L220.1 208.7L221.5 209.0L220.9 209.4L219.7 209.6ZM236.7 202.7L237.5 202.3L238.8 201.5L240.0 201.1L241.4 201.0L242.1 201.8L242.1 203.0L240.6 203.1L239.8 204.0L240.8 205.1L241.7 206.1L242.5 207.4L243.8 207.8L242.8 208.4L243.1 209.4L243.0 210.1L244.0 210.6L244.3 212.4L244.4 212.9L243.1 213.2L241.7 213.2L240.2 212.3L239.5 211.3L239.4 210.9L239.8 210.3L240.6 209.0L239.8 208.7L239.2 207.9L238.4 207.1L237.6 206.0L237.4 204.9L236.7 204.2ZM246.7 202.2L248.2 201.0L249.8 201.4L249.6 203.0L248.8 204.7L247.5 204.9L247.0 203.4ZM285.6 191.3L286.6 191.2L287.7 189.8L288.9 187.8L289.2 185.5L288.9 184.2L288.2 184.6L288.0 187.3L287.0 189.1L286.1 190.5ZM260.7 202.1L261.7 200.5L263.5 200.2L265.3 200.0L265.0 200.7L262.8 201.1L261.7 202.4ZM220.1 184.1L219.4 182.9L219.9 181.6L221.4 182.2L221.7 183.5L220.6 184.1ZM222.9 182.4L223.1 179.9L224.0 180.5L224.1 182.4ZM204.9 186.6L205.6 185.6L206.2 186.0L205.6 186.7ZM263.9 205.6L265.6 205.0L265.8 205.8L264.2 206.0ZM263.6 150.2L265.1 148.7L267.5 148.5L266.0 150.1ZM314.1 197.9L314.8 197.8L315.0 199.0L314.5 198.9ZM286.9 211.5L287.8 210.9L288.1 211.6L287.2 211.8ZM235.9 211.5L236.7 211.6L236.6 212.7L236.1 212.6ZM233.5 210.9L234.6 210.9L234.4 211.5L233.5 211.5ZM225.0 210.9L225.5 210.9L225.4 211.5L225.1 211.5ZM227.6 218.8L227.8 218.8L227.9 219.6L227.7 219.6ZM225.2 250.8L226.3 250.3L227.4 250.3L227.6 251.5L226.9 252.7L226.2 253.0L225.3 252.8L225.2 251.5ZM222.8 253.8L223.3 254.9L223.2 256.3L224.1 257.7L224.6 258.9L224.1 258.8L223.3 257.3L222.7 255.8L222.7 254.4ZM227.3 259.7L227.9 261.1L228.1 262.6L228.5 264.4L227.9 264.4L227.5 263.1L227.4 261.6L227.2 260.2ZM229.1 246.1L229.6 246.4L229.9 248.1L229.4 248.0ZM223.9 249.5L224.9 248.3L225.0 248.6L224.4 249.6ZM207.8 237.6L208.6 237.6L208.5 238.2L207.9 238.2ZM220.4 267.9L222.3 266.6L222.1 266.5L220.3 267.6ZM230.2 238.7L230.7 238.8L230.6 239.2L230.3 239.2ZM221.9 258.8L222.6 258.9L222.5 259.7L222.0 259.6ZM222.5 252.2L222.9 252.3L222.7 252.9L222.4 252.7Z"/></svg><div class="mb" style="left:93px;top:99px;width:102px;height:27px"></div>
<div class="bb" style="left:93px;top:99px;width:13.00px;height:27px"></div>
<div class="bb" style="left:93px;top:99px;width:2.00px;height:100.50px"></div>
<div class="mt" style="left:99.8px;top:104.22px">North</div>
<div class="mt" style="left:99.8px;top:113.02px">America</div>
<div class="mt" style="left:149.3px;width:40px;text-align:right;top:109.12px">12%</div>
<div class="mb" style="left:206px;top:84px;width:102px;height:27px"></div>
<div class="bb" style="left:206px;top:84px;width:77.15px;height:27px"></div>
<div class="bb" style="left:206px;top:84px;width:2.00px;height:114.75px"></div>
<div class="mt" style="left:214.6px;top:92.92px">Europe</div>
<div class="mt" style="left:261.3px;width:40px;text-align:right;top:94.02px">79%</div>
<div class="mb" style="left:250px;top:146px;width:102px;height:27px"></div>
<div class="bb" style="left:250px;top:146px;width:4.00px;height:27px"></div>
<div class="bb" style="left:250px;top:146px;width:2.00px;height:52.00px"></div>
<div class="mt" style="left:256.9px;top:154.22px">Asia</div>
<div class="mt" style="left:305.9px;width:40px;text-align:right;top:155.12px">2%</div>
<div class="mb" style="left:40px;top:217px;width:102px;height:27px"></div>
<div class="bb" style="left:136px;top:217px;width:6.00px;height:27px"></div>
<div class="bb" style="left:140px;top:217px;width:2.00px;height:53.00px"></div>
<div class="mt" style="left:46.4px;top:222.02px">South</div>
<div class="mt" style="left:46.4px;top:231.02px">America</div>
<div class="mt" style="left:94.19999999999999px;width:40px;text-align:right;top:227.02px">3.6%</div>
<div class="mb" style="left:112px;top:310px;width:103px;height:27px"></div>
<div class="bb" style="left:212px;top:310px;width:3.00px;height:27px"></div>
<div class="bb" style="left:213px;top:256.25px;width:2.00px;height:80.75px"></div>
<div class="mt" style="left:120px;top:318.97px">Africa</div>
<div class="mt" style="left:166.5px;width:40px;text-align:right;top:318.97px">1.4%</div>
<div class="mb" style="left:232px;top:250px;width:102px;height:27px"></div>
<div class="bb" style="left:232px;top:250px;width:4.00px;height:27px"></div>
<div class="bb" style="left:231px;top:224px;width:2.00px;height:53.00px"></div>
<div class="mt" style="left:239.8px;top:255.12px">Middle</div>
<div class="mt" style="left:239.8px;top:263.97px">East</div>
<div class="mt" style="left:287px;width:40px;text-align:right;top:260.12px">2%</div>
<!--/MAP-->
<div class="bg" style="left:441px"></div>
<div class="bf" style="left:441px;top:129.25px;height:45.75px"></div>
<div class="bv" style="left:431px;top:110.25px">40.2%</div>
<div class="bl" style="left:426px">25 to 34</div>
<div class="bg" style="left:492px"></div>
<div class="bf" style="left:492px;top:139px;height:36px"></div>
<div class="bv" style="left:482px;top:119.75px">30.7%</div>
<div class="bl" style="left:477px">35 to 44</div>
<div class="bg" style="left:542px"></div>
<div class="bf" style="left:542px;top:153px;height:22px"></div>
<div class="bv" style="left:532px;top:136.5px">18.4%</div>
<div class="bl" style="left:527px">45 to 54</div>
<div class="bg" style="left:592px"></div>
<div class="bf" style="left:592px;top:165.75px;height:9.25px"></div>
<div class="bv" style="left:582px;top:147.25px">5.3%</div>
<div class="bl" style="left:577px">18 to 24</div>
<div class="bg" style="left:643px"></div>
<div class="bf" style="left:643px;top:167px;height:8px"></div>
<div class="bv" style="left:633px;top:147.25px">5%</div>
<div class="bl" style="left:628px">55 to 64</div>
<div class="bg" style="left:693px"></div>
<div class="bf" style="left:693px;top:172.5px;height:2.5px"></div>
<div class="bv" style="left:683px;top:153.0px">0.3%</div>
<div class="bl" style="left:678px">75 or older</div>
<div style="left:416px;top:174px;width:338px;height:4px;background:#00a9a2"></div>
<div class="ln" style="left:436px;top:305.1px;width:303.5px"></div>
<div class="c" style="left:417.60px;top:288.8px">4.5%</div>
<div class="lab" style="left:396px;top:343.13px">Strongly<br>disagree</div>
<div class="c" style="left:493.10px;top:288.8px">14.3%</div>
<div class="lab" style="left:471.5px;top:343.13px">Disagree</div>
<div class="c" style="left:568.85px;top:288.8px">11.2%</div>
<div class="lab" style="left:547.25px;top:343.13px">Neither<br>agree nor<br>disagree</div>
<div class="c big" style="left:637.30px;top:281.2px">37.3%</div>
<div class="lab" style="left:623px;top:343.13px">Agree</div>
<div class="c l5" style="left:721.10px;top:290.3px">32.8%</div>
<div class="lab" style="left:699.5px;top:343.13px">Strongly<br>agree</div>
<div class="ln" style="left:50.1px;top:490.85px;width:303.59999999999997px"></div>
<div class="c" style="left:31.70px;top:474.8px">3.7%</div>
<div class="lab" style="left:10.100000000000001px;top:528.88px">Strongly<br>disagree</div>
<div class="c" style="left:107.60px;top:474.8px">13.3%</div>
<div class="lab" style="left:86px;top:528.88px">Disagree</div>
<div class="c" style="left:182.00px;top:474.8px">21.2%</div>
<div class="lab" style="left:160.4px;top:528.88px">Neither<br>agree nor<br>disagree</div>
<div class="c big" style="left:252.00px;top:466.8px">38.7%</div>
<div class="lab" style="left:237.7px;top:528.88px">Agree</div>
<div class="c l5" style="left:335.30px;top:476.3px">23.2%</div>
<div class="lab" style="left:313.7px;top:528.88px">Strongly<br>agree</div>
<div class="sm" style="left:416.5px;top:468.5px">YES</div>
<div class="sm" style="left:700px;top:468.5px;width:56px;text-align:right">NO</div>
<div style="left:416px;top:488px;width:339.6px;height:57.6px;background:#fff;border:1px solid #0c1339"></div>
<div style="left:416px;top:488px;width:176.5px;height:57.6px;background:#0c1339"></div>
<div class="sn" style="left:428px;top:512.7px;color:#fff">50.4%</div>
<div class="sn" style="left:690.3px;top:514.5px;width:53px;text-align:right">49.6%</div>
<div class="ln" style="left:50.1px;top:673.6px;width:303.59999999999997px"></div>
<div class="c" style="left:31.70px;top:657.4px">11%</div>
<div class="lab" style="left:10.100000000000001px;top:711.63px">Strongly<br>disagree</div>
<div class="c" style="left:107.60px;top:657.4px">26.1%</div>
<div class="lab" style="left:86px;top:711.63px">Disagree</div>
<div class="c" style="left:182.00px;top:657.4px">25.3%</div>
<div class="lab" style="left:160.4px;top:711.63px">Neither<br>agree nor<br>disagree</div>
<div class="c big" style="left:252.00px;top:649.8px">28.4%</div>
<div class="lab" style="left:237.7px;top:711.63px">Agree</div>
<div class="c l5" style="left:335.30px;top:658.9px">9.3%</div>
<div class="lab" style="left:313.7px;top:711.63px">Strongly<br>agree</div>
<div class="ln" style="left:435.1px;top:675.7px;width:304.4px"></div>
<div class="c" style="left:416.70px;top:659.25px">18.7%</div>
<div class="lab" style="left:395.1px;top:712.98px">Strongly<br>disagree</div>
<div class="c big" style="left:485.05px;top:652.4px">44.2%</div>
<div class="lab" style="left:470.75px;top:712.98px">Disagree</div>
<div class="c" style="left:567.00px;top:659.25px">23.8%</div>
<div class="lab" style="left:545.4px;top:712.98px">Neither<br>agree nor<br>disagree</div>
<div class="c" style="left:643.35px;top:659.25px">11.9%</div>
<div class="lab" style="left:621.75px;top:712.98px">Agree</div>
<div class="c l5" style="left:721.10px;top:660.75px">1.4%</div>
<div class="lab" style="left:699.5px;top:712.98px">Strongly<br>agree</div>
</body></html>
